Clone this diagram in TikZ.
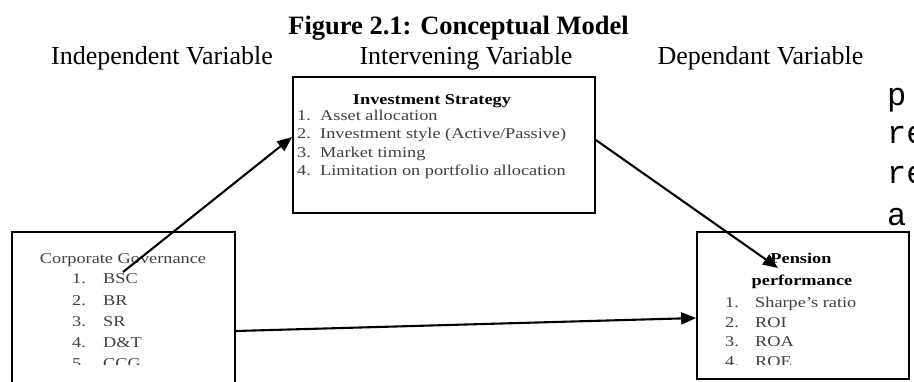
\documentclass[tikz,border=0pt]{standalone}
\usepackage{fontspec}
\setmainfont{Liberation Serif}
\newfontfamily\boxfont{Liberation Serif}[FakeStretch=1.22,Ligatures=TeX]
\newfontfamily\pagefont{Liberation Mono}
\usetikzlibrary{arrows.meta,positioning}

\begin{document}
\begin{tikzpicture}[x=1pt,y=-1pt,
  box/.style={draw,line width=1.7pt,inner sep=0pt},
  link/.style={line width=2.1pt,-{Triangle[length=15pt,width=12pt]}},
  item/.style={anchor=base west,inner sep=0pt,text=black!75,font=\boxfont\fontsize{15}{15}\selectfont},
  head/.style={anchor=base,inner sep=0pt,font=\boxfont\fontsize{15}{15}\selectfont\bfseries},
  varlabel/.style={inner sep=0pt,font=\fontsize{26}{26}\selectfont}]
  \useasboundingbox (0,0) rectangle (914,381);
  \clip (0,0) rectangle (914,381);

  % title and column labels
  \node[inner sep=0pt,font=\fontsize{26.5}{26.5}\selectfont\bfseries] (title) at (458.5,28){Figure 2.1: Conceptual Model};
  \node[varlabel] (indep) at (162,58){Independent Variable};
  \node[varlabel] (interv) at (466,58){Intervening Variable};
  \node[varlabel] (dep) at (760.5,58){Dependant Variable};

  % boxes
  \node[box,minimum width=302pt,minimum height=136pt] (invest) at (444,145){};
  \node[box,minimum width=223pt,minimum height=198pt] (corp) at (123.5,331){};
  \node[box,minimum width=212pt,minimum height=147pt] (pension) at (803,305.5){};

  % investment strategy
  \node[head] (investHead) at (432,104){Investment Strategy};
  \foreach \n/\t/\y in {1/Asset allocation/120,2/{Investment style (Active/Passive)}/138.5,
                        3/Market timing/157,4/Limitation on portfolio allocation/175.5}{
    \node[item] (invNum\n) at (297,\y){\n.};
    \node[item] (inv\n) at (320,\y){\t};
  }

  % corporate governance
  \node[item,anchor=base] (corpHead) at (123,263){Corporate Governance};
  \foreach \n/\t/\y in {1/BSC/283,2/BR/305,3/SR/326,4/D\&T/347}{
    \node[item] (cgNum\n) at (72,\y){\n.};
    \node[item] (cg\n) at (103,\y){\t};
  }
  \begin{scope}
    \clip (0,0) rectangle (914,364);
    \node[item] (cgNum5) at (72,368){5.};
    \node[item] (cg5) at (103,368){CCG};
  \end{scope}

  % pension performance
  \node[head] (penHead) at (801,263){Pension};
  \node[head] (perfHead) at (802,285){performance};
  \foreach \n/\t/\y in {1/Sharpe’s ratio/307,2/ROI/327,3/ROA/346}{
    \node[item] (ppNum\n) at (725,\y){\n.};
    \node[item] (pp\n) at (755,\y){\t};
  }
  \begin{scope}
    \clip (0,0) rectangle (914,364);
    \node[item] (ppNum4) at (725,366){4.};
    \node[item] (pp4) at (755,366){ROE};
  \end{scope}

  % page text cut at the right edge
  \foreach \t/\y [count=\i] in {p/105.5,re/143.5,re/183.5,a/225.5}{
    \node[anchor=base west,inner sep=0pt,font=\pagefont\fontsize{32}{32}\selectfont] (edge\i) at (887,\y){\t};
  }

  % arrows
  \coordinate (cgStart) at (123,272);
  \coordinate (ppTip) at (778,268);
  \draw[link] (cgStart) -- ([yshift=8pt]invest.west);
  \draw[link] ([yshift=5pt]invest.east) -- (ppTip);
  \draw[link] (corp.east) -- ([yshift=-12.5pt]pension.west);
\end{tikzpicture}
\end{document}
